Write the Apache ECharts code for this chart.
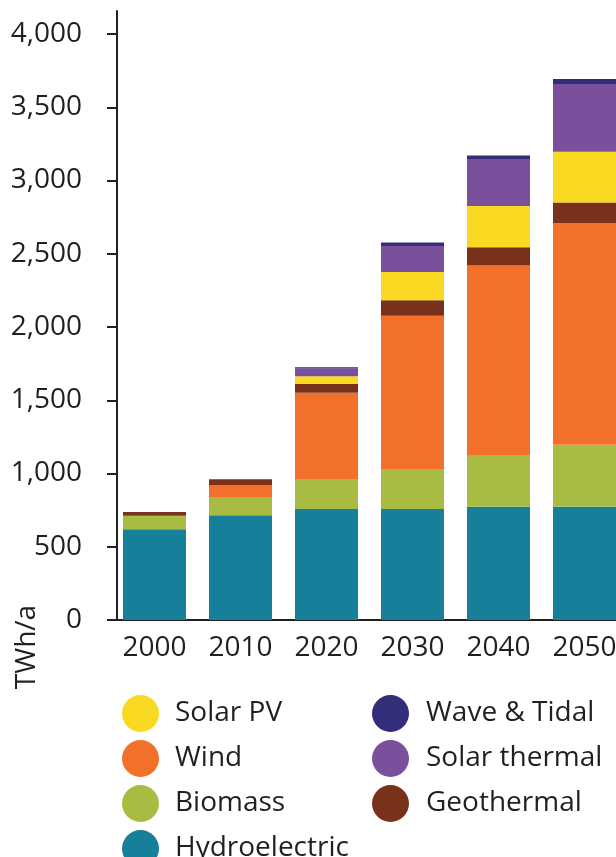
<!DOCTYPE html>
<html>
<head>
<meta charset="utf-8">
<script src="https://cdn.jsdelivr.net/npm/echarts@6/dist/echarts.min.js"></script>
<style>
html,body{margin:0;padding:0;background:#fff;}
#c{width:616px;height:857px;}
</style>
</head>
<body>
<div id="c"></div>
<script>
const years = ['2000', '2010', '2020', '2030', '2040', '2050'];
const hydro = [620, 715, 758, 758, 773, 773];
const biomass = [92, 125, 200, 273, 349, 424];
const wind = [0, 82, 594, 1046, 1297, 1511];
const geothermal = [25, 38, 59, 105, 125, 141];
const solarPV = [0, 0, 52, 193, 282, 348];
const solarThermal = [0, 0, 53, 178, 321, 462];
const waveTidal = [0, 0, 9, 23, 23, 34];
const yTicks = [0, 500, 1000, 1500, 2000, 2500, 3000, 3500, 4000];

const seriesDefs = [
  {name: 'Hydroelectric', data: hydro, color: '#167F9A'},
  {name: 'Biomass', data: biomass, color: '#A8BB43'},
  {name: 'Wind', data: wind, color: '#F3702B'},
  {name: 'Geothermal', data: geothermal, color: '#793219'},
  {name: 'Solar PV', data: solarPV, color: '#FAD923'},
  {name: 'Solar thermal', data: solarThermal, color: '#7A4F9C'},
  {name: 'Wave & Tidal', data: waveTidal, color: '#322E79'}
];

const FONT = 'Open Sans';
const TXT = '#231F20';

const chart = echarts.init(document.getElementById('c'));
const legendText = {fontFamily: FONT, fontSize: 28, color: TXT, padding: [0, 0, 0, 11]};
chart.setOption({
  animation: false,
  backgroundColor: '#fff',
  grid: {left: 111.5, width: 516, top: 11, bottom: 237, containLabel: false, outerBoundsMode: 'none'},
  xAxis: {
    type: 'category',
    data: years,
    axisLine: {show: true, lineStyle: {color: TXT, width: 2}},
    axisTick: {show: false},
    axisLabel: {fontFamily: FONT, fontSize: 28, color: TXT, margin: 14}
  },
  yAxis: {
    type: 'value',
    min: 0,
    max: 4157,
    offset: -5.5,
    splitLine: {show: false},
    axisLine: {show: true, lineStyle: {color: TXT, width: 2}},
    axisTick: {show: true, length: 10, lineStyle: {color: TXT, width: 2}, customValues: yTicks},
    axisLabel: {
      fontFamily: FONT, fontSize: 28, color: TXT, margin: 35,
      customValues: yTicks,
      formatter: v => v.toLocaleString('en-US')
    }
  },
  legend: [
    {
      orient: 'vertical', left: 117, top: 690, height: 300,
      itemWidth: 37, itemHeight: 37, itemGap: 8, icon: 'circle',
      data: ['Solar PV', 'Wind', 'Biomass', 'Hydroelectric'],
      textStyle: legendText
    },
    {
      orient: 'vertical', left: 367, top: 690, height: 300,
      itemWidth: 37, itemHeight: 37, itemGap: 8, icon: 'circle',
      data: ['Wave & Tidal', 'Solar thermal', 'Geothermal'],
      textStyle: Object.assign({}, legendText, {padding: [0, 0, 0, 12]})
    }
  ],
  graphic: [{
    type: 'text',
    x: 27, y: 647,
    rotation: Math.PI / 2,
    style: {text: 'TWh/a', fontFamily: FONT, fontSize: 28, fill: TXT, align: 'center', verticalAlign: 'middle'}
  }],
  series: seriesDefs.map(s => ({
    name: s.name,
    type: 'bar',
    stack: 'total',
    barWidth: 63,
    data: s.data,
    itemStyle: {color: s.color}
  }))
});
</script>
</body>
</html>
